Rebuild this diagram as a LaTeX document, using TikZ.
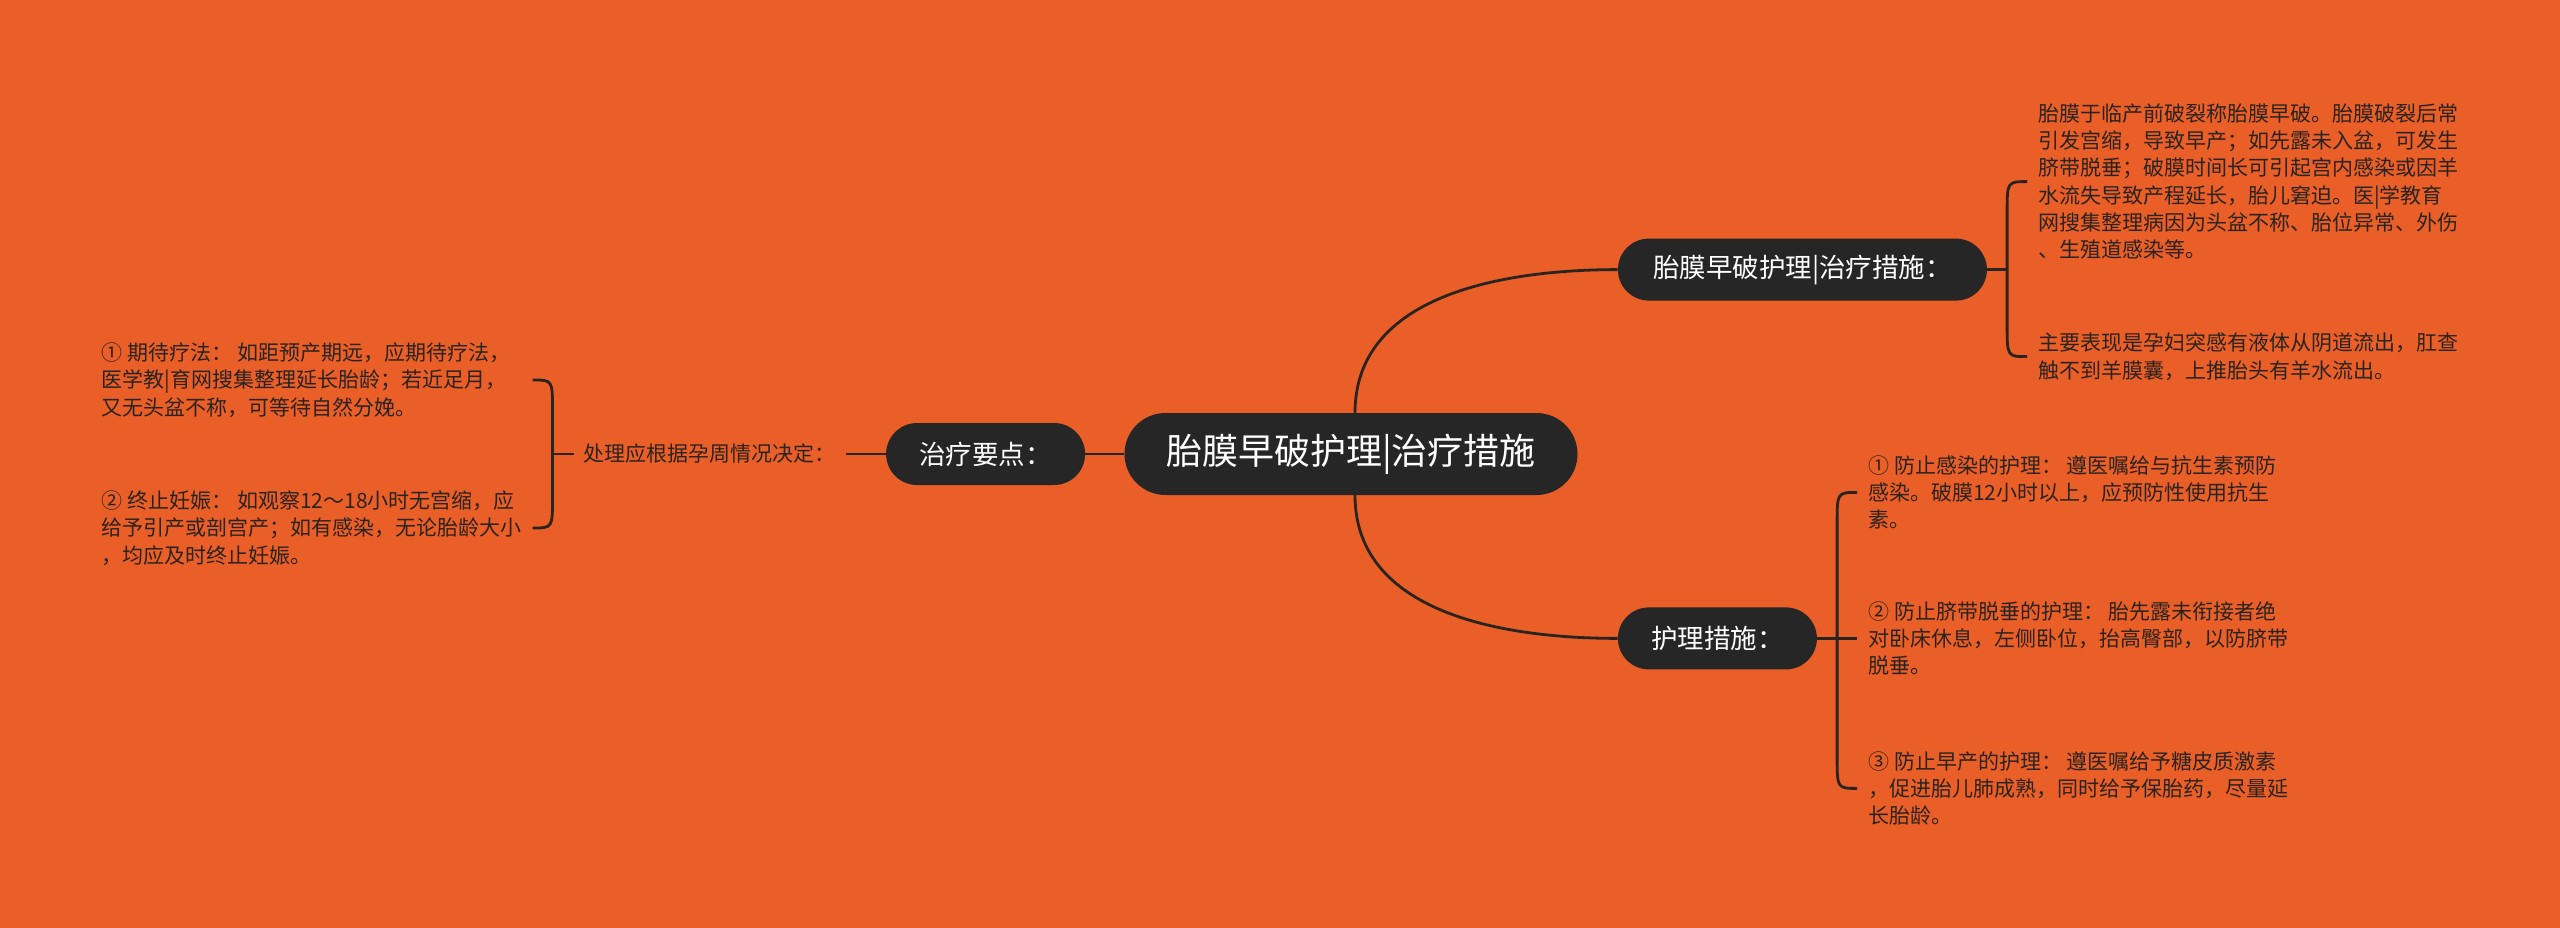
\documentclass[tikz,border=0pt]{standalone}
\usepackage{fontspec}
\setmainfont{Noto Sans CJK SC}
\usetikzlibrary{positioning}
\definecolor{sheet}{RGB}{234,94,40}
\definecolor{pill}{RGB}{38,38,38}
\definecolor{ink}{RGB}{42,36,32}
\tikzstyle{topic}=[rectangle, rounded corners=31pt, fill=pill, text=white, inner xsep=4pt, minimum height=62pt, font=\fontsize{26.5}{30}\selectfont]
\tikzstyle{note}=[inner sep=0pt, align=left, text=ink, font=\fontsize{21}{27.3}\selectfont]
\tikzstyle{link}=[draw=ink, line width=2.8pt]

\begin{document}
\begin{tikzpicture}[x=1pt, y=1pt]
  \useasboundingbox[fill=sheet] (0,0) rectangle (2560,-928);
  \node[topic, rounded corners=41pt, minimum width=453pt, minimum height=82pt, font=\fontsize{36}{40}\selectfont] (root) at (1351,-454) {胎膜早破护理|治疗措施};
  \node[topic, minimum width=199pt] (treat) [left=39pt of root] {治疗要点：};
  \node[topic, minimum width=369pt] (membrane) [above right=112pt and 40pt of root] {胎膜早破护理|治疗措施：};
  \node[topic, minimum width=199pt] (nursing) [below right=112pt and 40pt of root] {护理措施：};
  \node[note, inner xsep=10pt] (decide) [left=40pt of treat] {处理应根据孕周情况决定：};

  % left branch
  \coordinate (lfork) at ([xshift=-21pt]decide.west);
  \coordinate (ltop) at ([shift={(-20pt,74pt)}]lfork);
  \coordinate (lbot) at ([shift={(-20pt,-74pt)}]lfork);
  \node[note, anchor=west] (wait) at ([xshift=-431pt]ltop) {① 期待疗法： 如距预产期远，应期待疗法，\\医学教|育网搜集整理延长胎龄；若近足月，\\又无头盆不称，可等待自然分娩。};
  \node[note, anchor=west] (stop) at ([xshift=-431pt]lbot) {② 终止妊娠： 如观察12～18小时无宫缩，应\\给予引产或剖宫产；如有感染，无论胎龄大小\\，均应及时终止妊娠。};

  % upper right branch
  \coordinate (mfork) at ([xshift=20pt]membrane.east);
  \coordinate (mtop) at ([shift={(20pt,88pt)}]mfork);
  \coordinate (mbot) at ([shift={(20pt,-87pt)}]mfork);
  \node[note] (cause) [right=11pt of mtop] {胎膜于临产前破裂称胎膜早破。胎膜破裂后常\\引发宫缩，导致早产；如先露未入盆，可发生\\脐带脱垂；破膜时间长可引起宫内感染或因羊\\水流失导致产程延长，胎儿窘迫。医|学教育\\网搜集整理病因为头盆不称、胎位异常、外伤\\、生殖道感染等。};
  \node[note] (sign) [right=11pt of mbot] {主要表现是孕妇突感有液体从阴道流出，肛查\\触不到羊膜囊，上推胎头有羊水流出。};

  % lower right branch
  \coordinate (nfork) at ([xshift=20pt]nursing.east);
  \coordinate (ntop) at ([shift={(20pt,146pt)}]nfork);
  \coordinate (nmid) at ([xshift=20pt]nfork);
  \coordinate (nbot) at ([shift={(20pt,-150pt)}]nfork);
  \node[note] (infect) [right=11pt of ntop] {① 防止感染的护理： 遵医嘱给与抗生素预防\\感染。破膜12小时以上，应预防性使用抗生\\素。};
  \node[note] (cord) [right=11pt of nmid] {② 防止脐带脱垂的护理： 胎先露未衔接者绝\\对卧床休息，左侧卧位，抬高臀部，以防脐带\\脱垂。};
  \node[note] (preterm) [right=11pt of nbot] {③ 防止早产的护理： 遵医嘱给予糖皮质激素\\，促进胎儿肺成熟，同时给予保胎药，尽量延\\长胎龄。};

  \path[link] (root.west) edge (treat.east);
  \path[link] (treat.west) edge (decide.east);
  \path[link] (decide.west) edge (lfork);
  \path[link] ([xshift=4pt]root.north) edge[out=90, in=180] (membrane.west);
  \path[link] ([xshift=4pt]root.south) edge[out=-90, in=180] (nursing.west);
  \path[link] (membrane.east) edge (mfork);
  \path[link] (nursing.east) edge (nmid);

  \draw[link] (ltop) .. controls (lfork |- ltop) .. ([yshift=-30pt]lfork |- ltop) -- ([yshift=30pt]lfork |- lbot) .. controls (lfork |- lbot) .. (lbot);
  \draw[link] (mtop) .. controls (mfork |- mtop) .. ([yshift=-32pt]mfork |- mtop) -- ([yshift=32pt]mfork |- mbot) .. controls (mfork |- mbot) .. (mbot);
  \draw[link] (ntop) .. controls (nfork |- ntop) .. ([yshift=-32pt]nfork |- ntop) -- ([yshift=32pt]nfork |- nbot) .. controls (nfork |- nbot) .. (nbot);
\end{tikzpicture}
\end{document}
